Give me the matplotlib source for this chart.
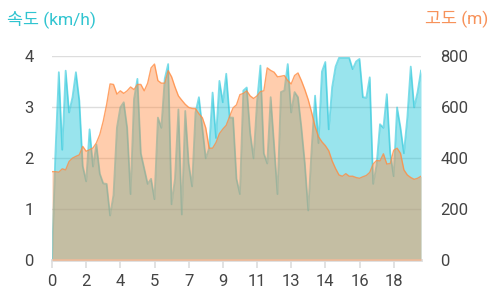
import matplotlib.pyplot as plt
import numpy as np

# speed (km/h) and altitude (m), sampled evenly along the route
speed = [0, 2.1, 3.69, 2.17, 3.72, 2.9, 3.2, 3.69, 3.13, 1.85,
         1.55, 2.57, 1.84, 2.27, 1.7, 1.51, 1.5, 0.88, 1.28, 2.6,
         3.0, 3.1, 2.6, 1.3, 3.16, 3.56, 2.1, 1.8, 1.5, 1.6,
         1.2, 2.8, 2.6, 3.56, 3.85, 1.1, 1.6, 2.96, 0.9, 2.93,
         1.9, 1.45, 2.9, 3.2, 2.6, 2.0, 2.2, 3.29, 2.4, 3.52,
         3.1, 3.66, 2.8, 2.8, 1.6, 1.3, 3.33, 3.39, 2.5, 2.0,
         3.1, 3.82, 2.1, 1.9, 3.2, 2.27, 1.3, 3.3, 3.33, 3.85,
         2.9, 3.3, 3.2, 2.6, 1.9, 0.98, 2.2, 3.23, 2.3, 3.7,
         3.89, 2.57, 3.4, 3.8, 3.97, 3.97, 3.97, 3.97, 3.75, 3.9,
         3.95, 3.2, 3.19, 3.59, 1.5, 1.87, 2.67, 2.6, 3.26, 2.1,
         1.65, 3.0, 2.6, 2.1, 2.8, 3.8, 3.0, 3.3, 3.72]

altitude = [348, 348, 346, 359, 355, 388, 401, 408, 414, 447,
            428, 434, 441, 461, 494, 546, 612, 692, 690, 652,
            665, 655, 665, 680, 670, 690, 690, 665, 695, 755,
            770, 705, 695, 695, 744, 720, 680, 645, 628, 612,
            600, 596, 595, 575, 560, 520, 440, 440, 462, 497,
            515, 530, 565, 598, 610, 650, 655, 665, 645, 635,
            645, 662, 665, 755, 745, 738, 720, 722, 725, 705,
            692, 725, 735, 705, 670, 630, 580, 525, 485, 465,
            450, 430, 390, 360, 335, 330, 340, 330, 330, 325,
            322, 328, 333, 345, 378, 392, 390, 418, 378, 380,
            432, 440, 420, 355, 335, 325, 318, 322, 330]

dist_labels = ['0', '2', '4', '5', '7', '9', '11', '13', '14', '16', '18']

plt.rcParams['font.family'] = ['Roboto', 'Noto Sans CJK KR', 'DejaVu Sans']

cyan = '#26c6da'
orange = '#ff8c42'
text_col = '#444444'

x = np.arange(len(speed))

fig = plt.figure(figsize=(5, 3), dpi=100)
ax = fig.add_axes([0.104, 0.132, 0.738, 0.680])
ax2 = ax.twinx()

ax.fill_between(x, 0, speed, color=cyan, alpha=0.47, lw=0)
ax.plot(x, speed, color=cyan, alpha=0.6, lw=1.3)
ax2.fill_between(x, 0, altitude, color=orange, alpha=0.43, lw=0)
ax2.plot(x, altitude, color=orange, alpha=0.8, lw=1.0)

ax.set_xlim(0, len(speed) - 1)
ax.set_ylim(0, 4)
ax2.set_ylim(0, 800)
ax.set_yticks([0, 1, 2, 3, 4])
ax2.set_yticks([0, 200, 400, 600, 800])
ax.set_xticks(np.arange(0, len(speed), 10))
ax.set_xticklabels(dist_labels)

ax.set_axisbelow(True)
ax.yaxis.grid(True, color='#dddddd', lw=1)

for s in ['top', 'left', 'right']:
    ax.spines[s].set_visible(False)
for s in ax2.spines.values():
    s.set_visible(False)
ax.spines['bottom'].set_color('#dddddd')
ax.spines['bottom'].set_linewidth(2)

ax.tick_params(axis='y', length=0, pad=13, labelsize=12, labelcolor=text_col)
ax2.tick_params(axis='y', length=0, pad=14, labelsize=12, labelcolor=text_col)
ax.tick_params(axis='x', length=6, width=1.2, color='#dddddd', pad=4,
               labelsize=12, labelcolor=text_col)

fig.text(0.014, 0.935, '속도 (km/h)', color='#30c4d0', fontsize=12.5, ha='left', va='center')
fig.text(0.976, 0.935, '고도 (m)', color='#f7925a', fontsize=12.5, ha='right', va='center')

plt.savefig('out.png')
